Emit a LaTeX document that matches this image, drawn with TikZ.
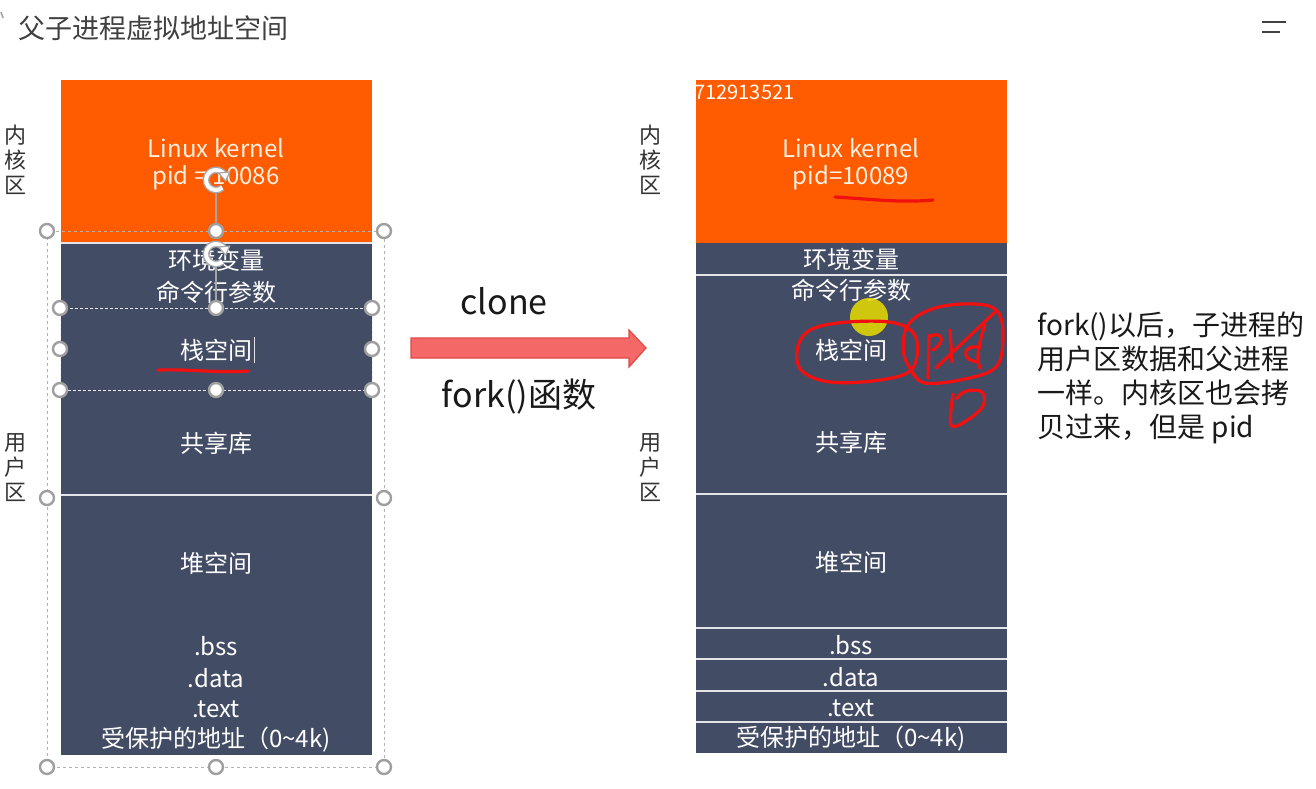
\documentclass[tikz,border=0pt]{standalone}
\usepackage{fontspec}
\setmainfont{Noto Sans CJK SC}
\usetikzlibrary{arrows.meta,calc}
\definecolor{kern}{HTML}{FF5B00}
\definecolor{navy}{HTML}{424C64}
\definecolor{arrowfill}{HTML}{F46868}
\definecolor{arrowline}{HTML}{E04848}
\definecolor{inkred}{HTML}{F01010}
\definecolor{titlegray}{HTML}{404040}
\tikzset{
  seglbl/.style={text=white, font=\fontsize{12}{14}\selectfont, inner sep=0pt},
  kernlbl/.style={text=white!88!orange, font=\fontsize{12}{15}\selectfont, inner sep=0pt, align=center},
  sidelbl/.style={text=black!80, font=\fontsize{11}{12.5}\selectfont, inner sep=0pt, align=center},
  sep/.style={draw=white!85!navy, line width=1pt},
  handle/.style={circle, draw=gray!75, fill=white, line width=1.2pt, minimum size=7pt, inner sep=0pt},
  selbox/.style={draw=gray!60, line width=0.4pt, dash pattern=on 1.5pt off 1.5pt},
  innersel/.style={draw=white!90!navy, line width=0.5pt, dash pattern=on 1.5pt off 1pt},
  scribble/.style={draw=inkred, line width=1.6pt, line cap=round, line join=round},
  rotline/.style={draw=gray!70, line width=0.6pt},
}
\newcommand{\roticon}[2]{%
  \draw[gray!70, line width=3.4pt] ($(#1,#2)+(50:10)$) arc[start angle=50, end angle=330, radius=10];
  \draw[white, line width=2pt] ($(#1,#2)+(50:10)$) arc[start angle=50, end angle=330, radius=10];
  \fill[white, draw=gray!70, line width=0.6pt] ($(#1,#2)+(330:10)+(-6,-2)$) -- ++(11,-1) -- ++(-4,9) -- cycle;
}
\begin{document}
\begin{tikzpicture}[x=0.5pt,y=-0.5pt]
\useasboundingbox (0,0) rectangle (1316,788);
\fill[white] (0,0) rectangle (1316,788);

% title and window marks
\node[anchor=west, text=titlegray, font=\fontsize{13.5}{15}\selectfont, inner sep=0pt] (title) at (18,28) {父子进程虚拟地址空间};
\draw[gray!70, line width=0.8pt] (1,12) -- (3,18);
\draw[black!75, line width=1pt] (1262,22) -- (1286,22);
\draw[black!75, line width=1pt] (1262,32) -- (1280,32);

% ---------------- left (parent) ----------------
\fill[kern] (61,80) rectangle (372,243);
\fill[navy] (61,243) rectangle (372,755);
\draw[sep] (61,243) -- (372,243);
\draw[sep] (61,495) -- (372,495);

\node[kernlbl] (lk) at (216,148) {Linux kernel};
\node[kernlbl] (lpid) at (216,178) {pid = 10086};
\node[seglbl] (lenv) at (216,260) {环境变量};
\node[seglbl] (larg) at (216,292) {命令行参数};
\node[seglbl] (lstk) at (216,350) {栈空间};
\node[seglbl] (lshr) at (216,443) {共享库};
\node[seglbl] (lheap) at (216,563) {堆空间};
\node[seglbl] (lbss) at (216,646) {.bss};
\node[seglbl] (ldata) at (216,678) {.data};
\node[seglbl] (ltext) at (216,709) {.text};
\node[seglbl] (lprot) at (216,740) {受保护的地址（0\textasciitilde 4k)};
\draw[white!80!gray, line width=0.5pt] (254,337) -- (254,363);

% red underline under stack
\draw[scribble] (158,370) .. controls (190,369) and (215,373) .. (248,371);

% selection boxes
\draw[selbox] (47,231) rectangle (384,767);
\draw[innersel] (60,308) rectangle (372,390);
\draw[rotline] (216,190) -- (216,231);
\draw[rotline] (216,264) -- (216,308);
\roticon{216}{180}
\roticon{216}{254}
\foreach \p [count=\i] in {(47,231),(216,231),(384,231),(47,498),(384,498),(47,767),(216,767),(384,767),
  (60,308),(216,308),(372,308),(60,349),(372,349),(60,390),(216,390),(372,390)}
  \node[handle] (h\i) at \p {};

\node[sidelbl] (lkz) at (15,160) {内\\核\\区};
\node[sidelbl] (luz) at (15,468) {用\\户\\区};

% ---------------- arrow ----------------
\path[fill=arrowfill, draw=arrowline, line width=0.6pt]
  (411,338) -- (629,338) -- (629,330) -- (646,348) -- (629,367) -- (629,358) -- (411,358) -- cycle;
\node[font=\fontsize{17}{20}\selectfont, text=black!90, inner sep=0pt] (clone) at (504,301) {clone};
\node[font=\fontsize{17}{20}\selectfont, text=black!90, inner sep=0pt] (fork) at (519,397) {fork()函数};

% ---------------- right (child) ----------------
\fill[kern] (696,80) rectangle (1007,243);
\fill[navy] (696,243) rectangle (1007,753);
\foreach \yy in {275,494,628,659,691,722}
  \draw[sep] (696,\yy) -- (1007,\yy);

\node[kernlbl] (rk) at (851,148) {Linux kernel};
\node[kernlbl] (rpid) at (851,178) {pid=10089};
\node[seglbl] (renv) at (851,259) {环境变量};
\node[seglbl] (rarg) at (851,290) {命令行参数};
\node[seglbl] (rstk) at (851,350) {栈空间};
\node[seglbl] (rshr) at (851,442) {共享库};
\node[seglbl] (rheap) at (851,562) {堆空间};
\node[seglbl] (rbss) at (851,645) {.bss};
\node[seglbl] (rdata) at (851,677) {.data};
\node[seglbl] (rtext) at (851,708) {.text};
\node[seglbl] (rprot) at (851,739) {受保护的地址（0\textasciitilde 4k)};

\node[anchor=west, text=white, font=\fontsize{10}{12}\selectfont, inner sep=0pt] (wm) at (694,92) {712913521};

\node[sidelbl] (rkz) at (650,160) {内\\核\\区};
\node[sidelbl] (ruz) at (650,468) {用\\户\\区};

% highlight and scribbles
\fill[yellow!80!olive, opacity=0.85] (869,317) circle (19);
\draw[scribble] (835,197) .. controls (870,199) and (900,203) .. (933,200);
\draw[scribble] plot[smooth cycle, tension=0.6] coordinates {(798,346)(812,329)(848,322)(895,323)(916,338)(912,369)(880,380)(830,382)(801,370)};
\draw[scribble] plot[smooth, tension=0.6] coordinates {(918,380)(904,355)(908,325)(935,308)(975,304)(998,312)(1003,340)(995,368)(960,380)(925,383)(912,372)};
\draw[scribble] (929,335) -- (928,378);
\draw[scribble] (929,337) .. controls (940,330) and (948,340) .. (933,350);
\draw[scribble] (950,330) -- (952,362);
\draw[scribble] (985,325) .. controls (978,345) and (976,360) .. (980,368);
\draw[scribble] (980,348) .. controls (965,342) and (958,360) .. (978,362);
\draw[scribble] (936,368) -- (995,312);
\draw[scribble] plot[smooth, tension=0.6] coordinates {(953,394)(951,425)(966,421)(983,406)(982,392)(966,391)(956,399)};

% explanation
\node[anchor=north west, align=left, text=black!90, font=\fontsize{14}{17}\selectfont, inner sep=0pt] (note) at (1037,311)
  {fork()以后，子进程的\\用户区数据和父进程\\一样。内核区也会拷\\贝过来，但是 pid};
\end{tikzpicture}
\end{document}
